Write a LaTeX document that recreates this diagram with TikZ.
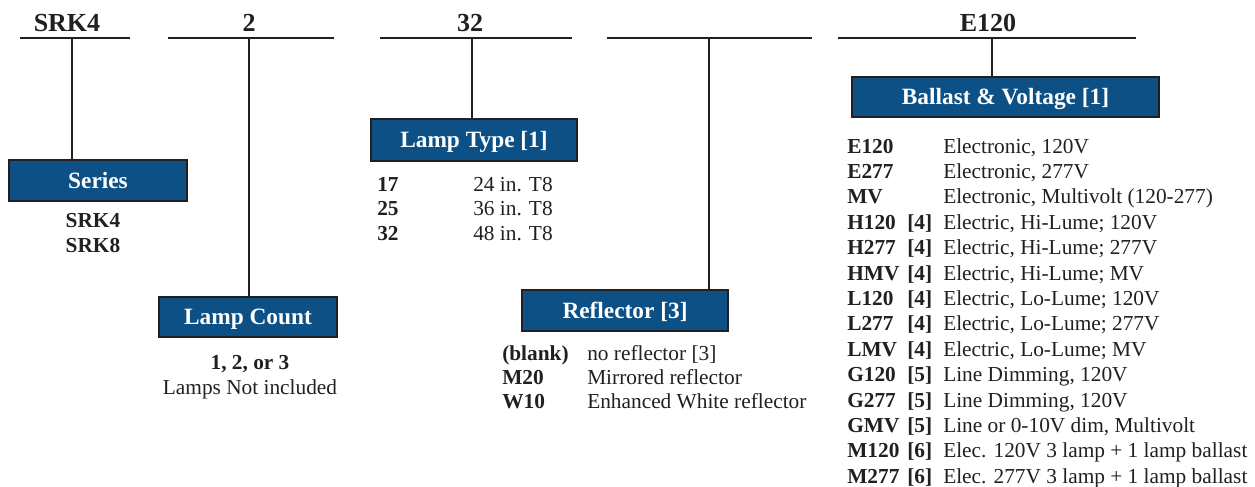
\documentclass[tikz,border=0pt]{standalone}
\usepackage{fontspec}
\setmainfont{Liberation Serif}
\definecolor{boxblue}{HTML}{0C5086}
\definecolor{ink}{HTML}{231F20}
\tikzset{
  bar/.style={line width=2.2pt, ink},
  stem/.style={line width=1.5pt, ink},
  label box/.style={draw=ink, line width=1.6pt, fill=boxblue, text=white,
    font=\fontsize{17.5}{20}\selectfont\bfseries, inner sep=0pt,
    text height=11.6pt, text depth=0pt},
  head/.style={font=\fontsize{19.5}{22}\selectfont\bfseries, text=ink, anchor=base, inner sep=0pt},
  code/.style={font=\fontsize{16}{19}\selectfont\bfseries, text=ink, anchor=base west, inner sep=0pt},
  desc/.style={font=\fontsize{16}{19}\selectfont, text=ink, anchor=base west, inner sep=0pt},
}
\begin{document}
\begin{tikzpicture}[x=0.75pt, y=-0.75pt]
	\useasboundingbox (0,0) rectangle (1255,486);
	% header bars
	\draw[bar] (20,38) -- (130,38);
	\draw[bar] (168,38) -- (334,38);
	\draw[bar] (380,38) -- (572,38);
	\draw[bar] (607,38) -- (812,38);
	\draw[bar] (838,38) -- (1136,38);
	\coordinate (s1) at (72,38);
	\coordinate (s2) at (249,38);
	\coordinate (s3) at (472,38);
	\coordinate (s4) at (709,38);
	\coordinate (s5) at (992,38);
	\node[head] (hseries) at (67,31) {SRK4};
	\node[head] (hcount) at (249,31) {2};
	\node[head] (htype) at (470,31) {32};
	\node[head] (hballast) at (988,31) {E120};
	% boxes
	\node[label box, minimum width=133.5pt, minimum height=30.75pt] (series) at (98,180.5) {Series};
	\node[label box, minimum width=133.5pt, minimum height=30pt] (count) at (248,317) {Lamp Count};
	\node[label box, minimum width=154.5pt, minimum height=31.5pt] (type) at (474,140) {Lamp Type [1]};
	\node[label box, minimum width=154.5pt, minimum height=30.75pt] (refl) at (625,310.5) {Reflector [3]};
	\node[label box, minimum width=230.25pt, minimum height=30pt] (ballast) at (1005.5,97) {Ballast \& Voltage [1]};
	\draw[stem] (s1) -- (s1 |- series.north);
	\draw[stem] (s2) -- (s2 |- count.north);
	\draw[stem] (s3) -- (s3 |- type.north);
	\draw[stem] (s4) -- (s4 |- refl.north);
	\draw[stem] (s5) -- (s5 |- ballast.north);
	% series
	\node[code, anchor=base] (srk4) at (93,227) {SRK4};
	\node[code, anchor=base] (srk8) at (93,252) {SRK8};
	% lamp count
	\node[code, anchor=base] (countval) at (250,369) {1, 2, or 3};
	\node[desc, anchor=base] (countnote) at (250,394) {Lamps Not included};
	% lamp type
	\foreach \code/\desc [count=\i] in {17/24 in. T8, 25/36 in. T8, 32/48 in. T8} {
		\node[code] (type\i) at (377,{166.5+24.5*\i}) {\code};
		\node[desc] (typed\i) at (473,{166.5+24.5*\i}) {\desc};
	}
	% reflector
	\foreach \code/\desc [count=\i] in {(blank)/no reflector [3], M20/Mirrored reflector, W10/Enhanced White reflector} {
		\node[code] (refl\i) at (502,{336+24*\i}) {\code};
		\node[desc] (refld\i) at (587,{336+24*\i}) {\desc};
	}
	% ballast
	\foreach \code/\note/\desc [count=\i] in {
		E120//{Electronic, 120V},
		E277//{Electronic, 277V},
		MV//{Electronic, Multivolt (120-277)},
		H120/[4]/{Electric, Hi-Lume; 120V},
		H277/[4]/{Electric, Hi-Lume; 277V},
		HMV/[4]/{Electric, Hi-Lume; MV},
		L120/[4]/{Electric, Lo-Lume; 120V},
		L277/[4]/{Electric, Lo-Lume; 277V},
		LMV/[4]/{Electric, Lo-Lume; MV},
		G120/[5]/{Line Dimming, 120V},
		G277/[5]/{Line Dimming, 120V},
		GMV/[5]/{Line or 0-10V dim, Multivolt},
		M120/[6]/{Elec. 120V 3 lamp + 1 lamp ballast},
		M277/[6]/{Elec. 277V 3 lamp + 1 lamp ballast}} {
		\node[code] (bal\i) at (847,{127.6+25.4*\i}) {\code};
		\node[code] (baln\i) at (907,{127.6+25.4*\i}) {\note};
		\node[desc] (bald\i) at (943,{127.6+25.4*\i}) {\desc};
	}
\end{tikzpicture}
\end{document}
